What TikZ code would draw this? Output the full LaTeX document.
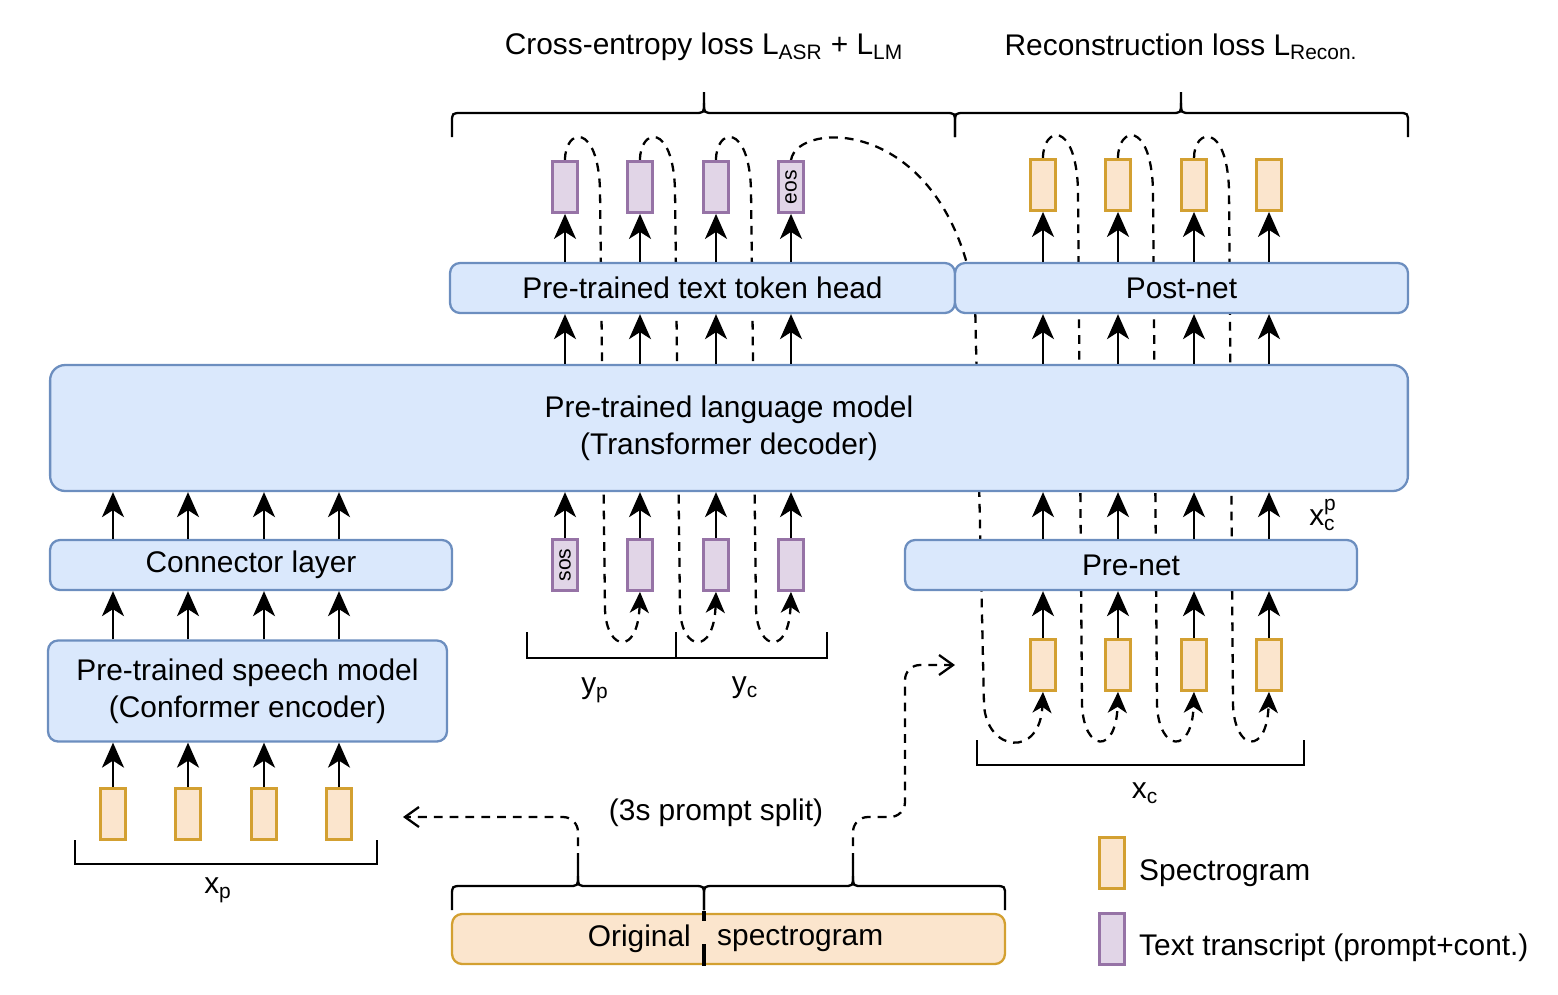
\documentclass[tikz,border=0pt]{standalone}
\usepackage{fontspec}
\setmainfont{Liberation Sans}
\usepackage{amsmath}
\usepackage{graphicx}
\usetikzlibrary{arrows.meta,backgrounds}

\definecolor{blockfill}{HTML}{DAE8FC}
\definecolor{blockline}{HTML}{6C8EBF}
\definecolor{specfill}{HTML}{FBE5CD}
\definecolor{specline}{HTML}{D3A031}
\definecolor{textfill}{HTML}{E1D5E7}
\definecolor{textline}{HTML}{9673A6}

\tikzset{
  block/.style={draw=blockline, fill=blockfill, line width=1.3pt, rounded corners=0.2cm, align=center, inner sep=0pt},
  spectok/.style={draw=specline, fill=specfill, line width=1.6pt, minimum width=0.5cm, minimum height=1.02cm, inner sep=0pt},
  texttok/.style={draw=textline, fill=textfill, line width=1.6pt, minimum width=0.5cm, minimum height=1.02cm, inner sep=0pt, font=\fontsize{12}{14}\selectfont},
  arr/.style={draw=black, line width=1.3pt, -{Stealth[length=0.5cm,width=0.44cm,inset=0.14cm]}},
  loopline/.style={draw=black, line width=1.3pt, dash pattern=on 5pt off 4pt, -{Stealth[length=0.42cm,width=0.38cm,inset=0.12cm]}},
  splitline/.style={draw=black, line width=1.3pt, dash pattern=on 5pt off 4pt, rounded corners=0.3cm, -{Straight Barb[length=0.28cm,width=0.4cm]}},
  bracket/.style={draw=black, line width=1.3pt},
}

\newcommand{\curlybrace}[6]{%
  \draw[bracket] (#1,#4) -- (#1,#5+10) .. controls (#1,#5) .. (#1+10,#5) -- (#3-10,#5) .. controls (#3,#5) .. (#3,#5-10) -- (#3,#6);
  \draw[bracket] (#3,#5-10) .. controls (#3,#5) .. (#3+10,#5) -- (#2-10,#5) .. controls (#2,#5) .. (#2,#5+10) -- (#2,#4);}

\begin{document}
\begin{tikzpicture}[x=0.02cm, y=-0.02cm, font=\fontsize{17}{21}\selectfont]
  \useasboundingbox (0,0) rectangle (1558,994);
  \begin{scope}[every node/.style={block}]
    \node[minimum width=10.1cm, minimum height=1cm] (head) at (702.5,288) {Pre-trained text token head};
    \node[minimum width=9.06cm, minimum height=1cm] (postnet) at (1181.5,288) {Post-net};
    \node[minimum width=27.16cm, minimum height=2.52cm, rounded corners=0.3cm] (lm) at (729,428) {Pre-trained language model\\(Transformer decoder)};
    \node[minimum width=8.04cm, minimum height=1cm] (connector) at (251,565) {Connector layer};
    \node[minimum width=7.98cm, minimum height=2.02cm] (speech) at (247.5,691) {Pre-trained speech model\\(Conformer encoder)};
    \node[minimum width=9.04cm, minimum height=1cm] (prenet) at (1131,565) {Pre-net};
    \node[minimum width=11.06cm, minimum height=1cm, draw=specline, fill=specfill] (orig) at (728.5,939) {};
  \end{scope}
  \begin{scope}[every node/.style={texttok}]
    \node (yo1) at (565,187) {};
    \node (yo2) at (640,187) {};
    \node (yo3) at (716,187) {};
    \node (yo4) at (791,187) {\rotatebox{90}{eos}};
    \node (yi1) at (565,565) {\rotatebox{90}{sos}};
    \node (yi2) at (640,565) {};
    \node (yi3) at (716,565) {};
    \node (yi4) at (791,565) {};
    \node (legtext) at (1112,939) {};
  \end{scope}
  \begin{scope}[every node/.style={spectok}]
    \node (xo1) at (1043,185) {};
    \node (xo2) at (1118,185) {};
    \node (xo3) at (1194,185) {};
    \node (xo4) at (1269,185) {};
    \node (xc1) at (1043,665) {};
    \node (xc2) at (1118,665) {};
    \node (xc3) at (1194,665) {};
    \node (xc4) at (1269,665) {};
    \node (xp1) at (113,814) {};
    \node (xp2) at (188,814) {};
    \node (xp3) at (264,814) {};
    \node (xp4) at (339,814) {};
    \node (legspec) at (1112,863) {};
  \end{scope}
  \begin{scope}[every edge/.style={arr}]
    \path (xp1) edge (xp1 |- speech.south);
    \path (xp2) edge (xp2 |- speech.south);
    \path (xp3) edge (xp3 |- speech.south);
    \path (xp4) edge (xp4 |- speech.south);
    \path (xp1 |- speech.north) edge (xp1 |- connector.south);
    \path (xp2 |- speech.north) edge (xp2 |- connector.south);
    \path (xp3 |- speech.north) edge (xp3 |- connector.south);
    \path (xp4 |- speech.north) edge (xp4 |- connector.south);
    \path (xp1 |- connector.north) edge (xp1 |- lm.south);
    \path (xp2 |- connector.north) edge (xp2 |- lm.south);
    \path (xp3 |- connector.north) edge (xp3 |- lm.south);
    \path (xp4 |- connector.north) edge (xp4 |- lm.south);
    \path (yi1) edge (yi1 |- lm.south);
    \path (yi2) edge (yi2 |- lm.south);
    \path (yi3) edge (yi3 |- lm.south);
    \path (yi4) edge (yi4 |- lm.south);
    \path (yo1 |- lm.north) edge (yo1 |- head.south);
    \path (yo2 |- lm.north) edge (yo2 |- head.south);
    \path (yo3 |- lm.north) edge (yo3 |- head.south);
    \path (yo4 |- lm.north) edge (yo4 |- head.south);
    \path (yo1 |- head.north) edge (yo1);
    \path (yo2 |- head.north) edge (yo2);
    \path (yo3 |- head.north) edge (yo3);
    \path (yo4 |- head.north) edge (yo4);
    \path (xc1) edge (xc1 |- prenet.south);
    \path (xc2) edge (xc2 |- prenet.south);
    \path (xc3) edge (xc3 |- prenet.south);
    \path (xc4) edge (xc4 |- prenet.south);
    \path (xc1 |- prenet.north) edge (xc1 |- lm.south);
    \path (xc2 |- prenet.north) edge (xc2 |- lm.south);
    \path (xc3 |- prenet.north) edge (xc3 |- lm.south);
    \path (xc4 |- prenet.north) edge (xc4 |- lm.south);
    \path (xo1 |- lm.north) edge (xo1 |- postnet.south);
    \path (xo2 |- lm.north) edge (xo2 |- postnet.south);
    \path (xo3 |- lm.north) edge (xo3 |- postnet.south);
    \path (xo4 |- lm.north) edge (xo4 |- postnet.south);
    \path (xo1 |- postnet.north) edge (xo1);
    \path (xo2 |- postnet.north) edge (xo2);
    \path (xo3 |- postnet.north) edge (xo3);
    \path (xo4 |- postnet.north) edge (xo4);
  \end{scope}
  \begin{pgfonlayer}{background}
    \draw[loopline] (yo1.north) .. controls (565,128) and (598,122) .. (600,190) -- (605,610) .. controls (607,652) and (638,655) .. (yi2.south);
    \draw[loopline] (yo2.north) .. controls (640,128) and (673,122) .. (675,190) -- (680,610) .. controls (682,652) and (714,655) .. (yi3.south);
    \draw[loopline] (yo3.north) .. controls (716,128) and (749,122) .. (751,190) -- (756,610) .. controls (758,652) and (789,655) .. (yi4.south);
    \draw[loopline] (yo4.north) .. controls (797,120) and (945,115) .. (975,300) -- (984,705) .. controls (987,752) and (1040,758) .. (xc1.south);
    \draw[loopline] (xo1.north) .. controls (1043,126) and (1076,120) .. (1078,190) -- (1082,705) .. controls (1084,752) and (1116,755) .. (xc2.south);
    \draw[loopline] (xo2.north) .. controls (1118,126) and (1151,120) .. (1153,190) -- (1157,705) .. controls (1159,752) and (1192,755) .. (xc3.south);
    \draw[loopline] (xo3.north) .. controls (1194,128) and (1227,122) .. (1229,190) -- (1233,705) .. controls (1235,752) and (1267,755) .. (xc4.south);
  \end{pgfonlayer}
  \curlybrace{452}{955}{704}{137}{113}{92}
  \curlybrace{955}{1408}{1181}{137}{113}{92}
  \curlybrace{452}{704}{578}{910}{886}{862}
  \curlybrace{704}{1005}{853}{910}{886}{862}
  \draw[bracket] (75,840) |- (377,864) -- (377,840);
  \draw[bracket] (527,632) |- (827,658) -- (827,632);
  \draw[bracket] (676,632) -- (676,658);
  \draw[bracket] (977,740) |- (1304,765) -- (1304,740);
  \draw[line width=0.07cm] (704,911) -- (704,921);
  \draw[line width=0.08cm] (704,944) -- (704,966);
  \coordinate (ptip) at (578,862);
  \coordinate (ctip) at (853,862);
  \coordinate (pend) at (403,817);
  \coordinate (cend) at (955,665);
  \draw[splitline] (ptip) |- (pend);
  \draw[splitline] (ctip) |- (905,817) |- (cend);
  \node (celoss) at (704,47) {Cross-entropy loss L\textsubscript{ASR} + L\textsubscript{LM}};
  \node (recloss) at (1181,47) {Reconstruction loss L\textsubscript{Recon.}};
  \node (ypl) at (595,690) {y\textsubscript{p}};
  \node (ycl) at (745,688) {y\textsubscript{c}};
  \node (xpl) at (218,890) {x\textsubscript{p}};
  \node (xcl) at (1145,793) {x\textsubscript{c}};
  \node (xcpl) at (1323,515) {$\text{x}_{\text{c}}^{\text{p}}$};
  \node (splitl) at (716,813) {(3s prompt split)};
  \node[anchor=east] (origl) at (697,939) {Original};
  \node[anchor=west] (origr) at (711,939) {spectrogram};
  \node[anchor=west] (legspecl) at (1133,873) {Spectrogram};
  \node[anchor=west] (legtextl) at (1133,948) {Text transcript (prompt+cont.)};
\end{tikzpicture}
\end{document}
